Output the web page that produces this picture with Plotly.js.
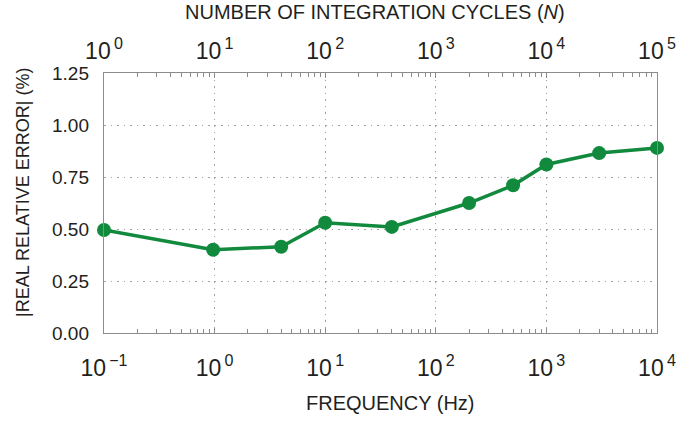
<!DOCTYPE html>
<html>
<head>
<meta charset="utf-8">
<script src="https://cdn.plot.ly/plotly-3.0.1.min.js"></script>
<style>
  html, body { margin: 0; padding: 0; background: #fff; }
  #chart { width: 698px; height: 422px; }
</style>
</head>
<body>
<div id="chart"></div>
<script>
// Data
const frequencyHz = [0.1, 0.97, 4, 10, 40, 200, 500, 1000, 3000, 10000];
const relativeErrorPct = [0.495, 0.40, 0.415, 0.53, 0.51, 0.625, 0.71, 0.81, 0.865, 0.89];

// Tick labels
const freqExponents = [-1, 0, 1, 2, 3, 4];
const cycleExponents = [0, 1, 2, 3, 4, 5];
const yTickVals = [0, 0.25, 0.5, 0.75, 1.0, 1.25];
const yTickText = ['0.00', '0.25', '0.50', '0.75', '1.00', '1.25'];

const xTitle = 'FREQUENCY (Hz)';
const x2Title = 'NUMBER OF INTEGRATION CYCLES (<i>N</i>)';
const yTitle = '|REAL RELATIVE ERROR| (%)';

const green = '#128a3e';
const axisGrey = '#8c8c8c';
const gridGrey = '#a0a0a0';
const textColor = '#231f20';
const fontFamily = '"Liberation Sans", Arial, sans-serif';

function powLabel(e) {
  return '10<sup>\u2009' + (e < 0 ? '\u2212' + (-e) : String(e)) + '</sup>';
}
function minorVals(exps) {
  const out = [];
  for (let i = 0; i < exps.length - 1; i++) {
    for (let m = 2; m <= 9; m++) out.push(m * Math.pow(10, exps[i]));
  }
  return out;
}

const freqTickVals = freqExponents.map(e => Math.pow(10, e));
const cycleTickVals = cycleExponents.map(e => Math.pow(10, e));

const trace = {
  x: frequencyHz,
  y: relativeErrorPct,
  xaxis: 'x',
  yaxis: 'y',
  type: 'scatter',
  mode: 'lines+markers',
  line: { color: green, width: 3.5 },
  marker: { color: green, size: 14 },
  cliponaxis: false,
  showlegend: false,
  hoverinfo: 'skip'
};
// empty trace so the top (cycles) axis is created
const topAxisTrace = {
  x: [], y: [], xaxis: 'x2', yaxis: 'y', type: 'scatter', mode: 'markers',
  showlegend: false, hoverinfo: 'skip'
};

const minorStyle = { ticks: 'inside', ticklen: 4, tickwidth: 1, tickcolor: axisGrey, showgrid: false };

const layout = {
  width: 698,
  height: 422,
  margin: { l: 104, r: 41, t: 73, b: 89 },
  paper_bgcolor: '#ffffff',
  plot_bgcolor: '#ffffff',
  font: { family: fontFamily, color: textColor },
  showlegend: false,
  xaxis: {
    type: 'log',
    range: [freqExponents[0], freqExponents[freqExponents.length - 1]],
    tickmode: 'array',
    tickvals: freqTickVals,
    ticktext: freqExponents.map(powLabel),
    tickfont: { size: 23, color: textColor },
    ticks: 'inside',
    ticklen: 5,
    tickcolor: axisGrey,
    ticklabelstandoff: 14,
    minor: Object.assign({ tickmode: 'array', tickvals: minorVals(freqExponents) }, minorStyle),
    showline: true,
    linecolor: axisGrey,
    linewidth: 1.2,
    showgrid: true,
    gridcolor: gridGrey,
    gridwidth: 1,
    griddash: '1.5px,5px',
    zeroline: false
  },
  xaxis2: {
    type: 'log',
    overlaying: 'x',
    side: 'top',
    anchor: 'y',
    range: [cycleExponents[0], cycleExponents[cycleExponents.length - 1]],
    tickmode: 'array',
    tickvals: cycleTickVals,
    ticktext: cycleExponents.map(powLabel),
    tickfont: { size: 23, color: textColor },
    ticks: 'inside',
    ticklen: 5,
    tickcolor: axisGrey,
    ticklabelstandoff: 4,
    minor: Object.assign({ tickmode: 'array', tickvals: minorVals(cycleExponents) }, minorStyle),
    showline: true,
    linecolor: axisGrey,
    linewidth: 1.2,
    showgrid: false,
    zeroline: false
  },
  yaxis: {
    range: [yTickVals[0], yTickVals[yTickVals.length - 1]],
    tickmode: 'array',
    tickvals: yTickVals,
    ticktext: yTickText,
    tickfont: { size: 19, color: textColor },
    ticks: '',
    ticklabelstandoff: 10,
    showline: true,
    linecolor: axisGrey,
    linewidth: 1.2,
    mirror: true,
    showgrid: true,
    gridcolor: gridGrey,
    gridwidth: 1,
    griddash: '1.5px,5px',
    zeroline: false
  },
  annotations: [
    { text: x2Title, xref: 'paper', yref: 'paper', x: 0.5, y: 1, xshift: -6, yshift: 61,
      showarrow: false, xanchor: 'center', yanchor: 'middle', font: { size: 20, color: textColor } },
    { text: xTitle, xref: 'paper', yref: 'paper', x: 0.5, y: 0, xshift: 10, yshift: -70,
      showarrow: false, xanchor: 'center', yanchor: 'middle', font: { size: 20, color: textColor } },
    { text: yTitle, xref: 'paper', yref: 'paper', x: 0, y: 0.5, xshift: -81, yshift: 10, textangle: -90,
      showarrow: false, xanchor: 'center', yanchor: 'middle', font: { size: 18, color: textColor } }
  ]
};

Plotly.newPlot('chart', [trace, topAxisTrace], layout, { displayModeBar: false, staticPlot: true });
</script>
</body>
</html>
